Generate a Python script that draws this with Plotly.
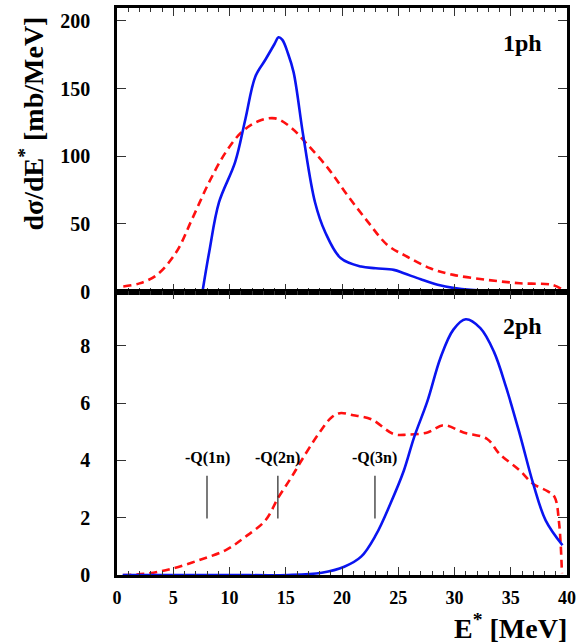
import plotly.graph_objects as go
from plotly.subplots import make_subplots

# ---- data: 1ph panel (top) ----
e_1ph_blue = [7.6, 8.2, 9.07, 10.5, 11.4, 12.3, 13.2, 14.0, 14.36, 14.7, 15.2, 15.7, 16.56, 17.6, 18.5,
              19.9, 21.7, 23.0, 24.6, 25.5, 27.0, 28.5, 30.0, 31.4, 33.0, 35.0, 37.0, 39.5]
y_1ph_blue = [0, 29.4, 66, 95.6, 127, 159, 171.5, 183, 188, 186, 176, 162, 115, 66, 44,
              24.5, 18.4, 17.2, 16, 13.5, 9, 5, 2.5, 1.2, 0.5, 0.2, 0.1, 0]
e_1ph_red = [0.56, 2.0, 3.5, 5.26, 6.7, 8.2, 9.67, 11.1, 12.6, 14.07, 15.5, 17.0, 18.8, 20.5, 22.3,
             24.05, 25.8, 27.9, 29.9, 32.9, 35.8, 38.7, 39.5]
y_1ph_red = [3.7, 6, 12, 29, 54, 81, 103, 118, 126, 128, 121, 108, 90.7, 71, 51.5,
             34.3, 25.7, 17, 12.3, 8.6, 6.1, 4.9, 2]

# ---- data: 2ph panel (bottom) ----
e_2ph_blue = [0.5, 5.0, 10.0, 15.2, 18.2, 20.2, 21.7, 23.0, 24.3, 25.5, 26.4, 27.6, 28.75, 29.9, 31.0,
              32.3, 33.5, 34.6, 35.8, 37.0, 38.1, 39.6]
y_2ph_blue = [0, 0, 0, 0, 0.08, 0.29, 0.64, 1.39, 2.49, 3.65, 4.8, 6.08, 7.58, 8.57, 8.93,
              8.62, 7.8, 6.54, 4.92, 3.18, 1.91, 1.04]
e_2ph_red = [0.56, 2.9, 4.96, 7.3, 9.67, 11.4, 13.2, 14.36, 15.5, 16.4, 17.9, 19.06, 19.8, 21.0, 22.6,
             24.6, 25.8, 27.6, 29.05, 30.8, 32.9, 34.0, 35.8, 37.0, 38.3, 38.9, 39.3, 39.55]
y_2ph_red = [0, 0.06, 0.23, 0.52, 0.87, 1.33, 1.91, 2.72, 3.41, 4.0, 4.92, 5.5, 5.65, 5.58, 5.44,
             4.92, 4.9, 4.98, 5.23, 4.98, 4.75, 4.23, 3.65, 3.18, 2.92, 2.72, 1.8, 0.06]

# ---- separation energies (markers in lower panel) ----
q_labels = ["-Q(1n)", "-Q(2n)", "-Q(3n)"]
q_values = [8.0, 14.3, 22.93]
q_line_low, q_line_high, q_text_y = 1.97, 3.47, 4.08

x_ticks = [0, 5, 10, 15, 20, 25, 30, 35, 40]
y_ticks_top = [0, 50, 100, 150, 200]
y_ticks_bot = [0, 2, 4, 6, 8]

FONT = "Liberation Serif"
BLUE = "#0a14f0"
RED = "#ff1010"

fig = make_subplots(rows=2, cols=1, shared_xaxes=True, vertical_spacing=0)

fig.add_trace(go.Scatter(x=e_1ph_red, y=y_1ph_red, mode="lines", line=dict(color=RED, width=2.6, dash="8px,5px"),
                         line_shape="spline", showlegend=False), row=1, col=1)
fig.add_trace(go.Scatter(x=e_1ph_blue, y=y_1ph_blue, mode="lines", line=dict(color=BLUE, width=2.6),
                         line_shape="spline", showlegend=False), row=1, col=1)
fig.add_trace(go.Scatter(x=e_2ph_red, y=y_2ph_red, mode="lines", line=dict(color=RED, width=2.6, dash="8px,5px"),
                         line_shape="spline", showlegend=False), row=2, col=1)
fig.add_trace(go.Scatter(x=e_2ph_blue, y=y_2ph_blue, mode="lines", line=dict(color=BLUE, width=2.6),
                         line_shape="spline", showlegend=False), row=2, col=1)

for lab, q in zip(q_labels, q_values):
    fig.add_shape(type="line", x0=q, x1=q, y0=q_line_low, y1=q_line_high, xref="x2", yref="y2",
                  line=dict(color="#222222", width=1.2))
    fig.add_annotation(x=q, y=q_text_y, xref="x2", yref="y2", text=lab, showarrow=False,
                       xanchor="center", yanchor="middle",
                       font=dict(family=FONT, size=16, color="black", weight="bold"))

fig.add_annotation(x=36.0, y=184, xref="x", yref="y", text="1ph", showarrow=False,
                   xanchor="center", yanchor="middle",
                   font=dict(family=FONT, size=24, color="black", weight="bold"))
fig.add_annotation(x=36.0, y=8.7, xref="x2", yref="y2", text="2ph", showarrow=False,
                   xanchor="center", yanchor="middle",
                   font=dict(family=FONT, size=24, color="black", weight="bold"))

fig.add_annotation(x=-0.189, y=0.796, xref="paper", yref="paper", text="dσ/dE<sup>*</sup> [mb/MeV]",
                   textangle=-90, showarrow=False, xanchor="center", yanchor="middle",
                   font=dict(family=FONT, size=28, color="black", weight="bold"))
fig.add_annotation(x=1.004, y=-0.091, xref="paper", yref="paper", xanchor="right", yanchor="middle",
                   text="E<sup>*</sup> [MeV]",
                   showarrow=False, font=dict(family=FONT, size=28, color="black", weight="bold"))

axis_common = dict(showline=True, linecolor="black", linewidth=2.5, mirror="ticks", ticks="inside",
                   tickcolor="#333333", tickwidth=1.2, showgrid=False, zeroline=False)

xcommon = dict(axis_common, range=[0, 40], tickvals=x_ticks, ticklen=8,
               tickfont=dict(family=FONT, size=18, color="black", weight="bold"),
               minor=dict(dtick=1, ticklen=4, ticks="inside", tickcolor="#333333", tickwidth=1.2))
ycommon = dict(axis_common, ticklen=9, ticklabelstandoff=20,
               tickfont=dict(family=FONT, size=20, color="black", weight="bold"))
fig.update_xaxes(**xcommon, showticklabels=False, row=1, col=1)
fig.update_xaxes(**xcommon, showticklabels=True, ticklabelstandoff=5, row=2, col=1)
fig.update_yaxes(**ycommon, range=[0, 209.6], tickvals=y_ticks_top, row=1, col=1)
fig.update_yaxes(**ycommon, range=[0, 9.9], tickvals=y_ticks_bot, row=2, col=1)

fig.update_layout(width=581, height=643, margin=dict(l=117, r=9, t=5, b=68),
                  paper_bgcolor="white", plot_bgcolor="white")

fig.write_html("out.html", config={"displayModeBar": False},
               post_script="document.body.style.margin='0';document.body.style.padding='0';")
